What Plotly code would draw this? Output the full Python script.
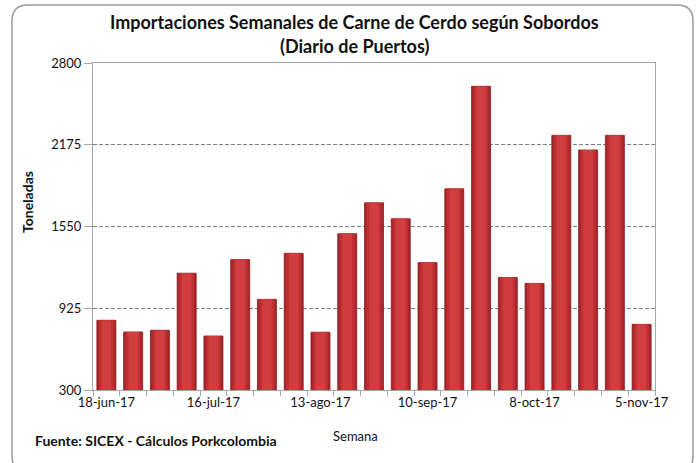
import plotly.graph_objects as go

weeks = ["18-jun-17", "25-jun-17", "2-jul-17", "9-jul-17", "16-jul-17", "23-jul-17",
         "30-jul-17", "6-ago-17", "13-ago-17", "20-ago-17", "27-ago-17", "3-sep-17",
         "10-sep-17", "17-sep-17", "24-sep-17", "1-oct-17", "8-oct-17", "15-oct-17",
         "22-oct-17", "29-oct-17", "5-nov-17"]
toneladas = [833, 744, 757, 1193, 713, 1297, 993, 1345, 742, 1495, 1731,
             1609, 1274, 1838, 2622, 1160, 1115, 2247, 2135, 2247, 802]
y_ticks = [300, 925, 1550, 2175, 2800]
label_every = 4

x = list(range(len(weeks)))
tick_idx = x[::label_every]
tick_txt = [weeks[i] for i in tick_idx]

FONT = "Lato"
L, T, R, B = 93, 63, 655, 390
W, H = R - L, B - T

fig = go.Figure()
# shaded cylinder look: dark outer bar + lighter inner bars
fig.add_trace(go.Bar(x=x, y=toneladas, width=0.71,
                     marker=dict(color="#A82629", line=dict(color="#8A1C1F", width=0.8)),
                     hoverinfo="skip", showlegend=False))
fig.add_trace(go.Bar(x=x, y=toneladas, width=0.55,
                     marker=dict(color="#BF3034", line=dict(width=0)),
                     hoverinfo="skip", showlegend=False))
fig.add_trace(go.Bar(x=x, y=toneladas, width=0.36,
                     marker=dict(color="#D03E40", line=dict(width=0)),
                     customdata=weeks,
                     hovertemplate="%{customdata}: %{y}<extra></extra>", showlegend=False))

fig.update_layout(
    width=697, height=463,
    margin=dict(l=L, r=697 - R, t=T, b=463 - B),
    paper_bgcolor="white", plot_bgcolor="white",
    barmode="overlay",
    font=dict(family=FONT, size=12, color="#222222"),
    xaxis=dict(
        range=[-0.5, len(weeks) - 0.5],
        tickmode="array", tickvals=tick_idx, ticktext=tick_txt,
        ticks="", showgrid=False, zeroline=False,
        showline=True, linecolor="#A6A6A6", linewidth=1, mirror=True,
        tickfont=dict(size=13, family=FONT, color="#111111"),
        minor=dict(tick0=-0.5, dtick=1, ticks="outside", ticklen=5,
                   tickcolor="#A6A6A6", tickwidth=1, showgrid=False),
    ),
    yaxis=dict(
        range=[300, 2800], tickmode="array", tickvals=y_ticks,
        ticks="outside", ticklen=8, tickcolor="#A6A6A6",
        showgrid=True, gridcolor="#7F7F7F", griddash="4px,2px", gridwidth=1,
        zeroline=False, showline=True, linecolor="#A6A6A6", linewidth=1, mirror=True,
        tickfont=dict(size=13, family=FONT, color="#111111"),
    ),
)

def px(v):
    return (v - L) / W
def py(v):
    return 1 - (v - T) / H

ann_font = dict(family=FONT, color="#111111")
fig.add_annotation(text="<b>Importaciones Semanales de Carne de Cerdo según Sobordos</b>",
                   xref="paper", yref="paper", x=px(354), y=py(22), showarrow=False,
                   font=dict(size=18, **ann_font), xanchor="center", yanchor="middle")
fig.add_annotation(text="<b>(Diario de Puertos)</b>",
                   xref="paper", yref="paper", x=px(354), y=py(46), showarrow=False,
                   font=dict(size=18, **ann_font), xanchor="center", yanchor="middle")
fig.add_annotation(text="<b>Fuente: SICEX - Cálculos Porkcolombia</b>",
                   xref="paper", yref="paper", x=px(33), y=py(440), showarrow=False,
                   font=dict(size=14, **ann_font), xanchor="left", yanchor="middle")
fig.add_annotation(text="Semana",
                   xref="paper", yref="paper", x=px(355), y=py(436), showarrow=False,
                   font=dict(size=13, **ann_font), xanchor="center", yanchor="middle")
fig.add_annotation(text="<b>Toneladas</b>", textangle=-90,
                   xref="paper", yref="paper", x=px(27), y=py(202), showarrow=False,
                   font=dict(size=14, **ann_font), xanchor="center", yanchor="middle")

# rounded chart frame
x0, y0, x1, y1, r = 12, 5, 693, 472, 16
path = (f"M {px(x0 + r)},{py(y0)} L {px(x1 - r)},{py(y0)} "
        f"Q {px(x1)},{py(y0)} {px(x1)},{py(y0 + r)} "
        f"L {px(x1)},{py(y1 - r)} Q {px(x1)},{py(y1)} {px(x1 - r)},{py(y1)} "
        f"L {px(x0 + r)},{py(y1)} Q {px(x0)},{py(y1)} {px(x0)},{py(y1 - r)} "
        f"L {px(x0)},{py(y0 + r)} Q {px(x0)},{py(y0)} {px(x0 + r)},{py(y0)} Z")
fig.add_shape(type="path", path=path, xref="paper", yref="paper",
              line=dict(color="#9A9A9A", width=1.5), layer="below")

fig.write_html("out.html", config={"displayModeBar": False},
               post_script="document.body.style.margin='0';document.body.style.overflow='hidden';")
